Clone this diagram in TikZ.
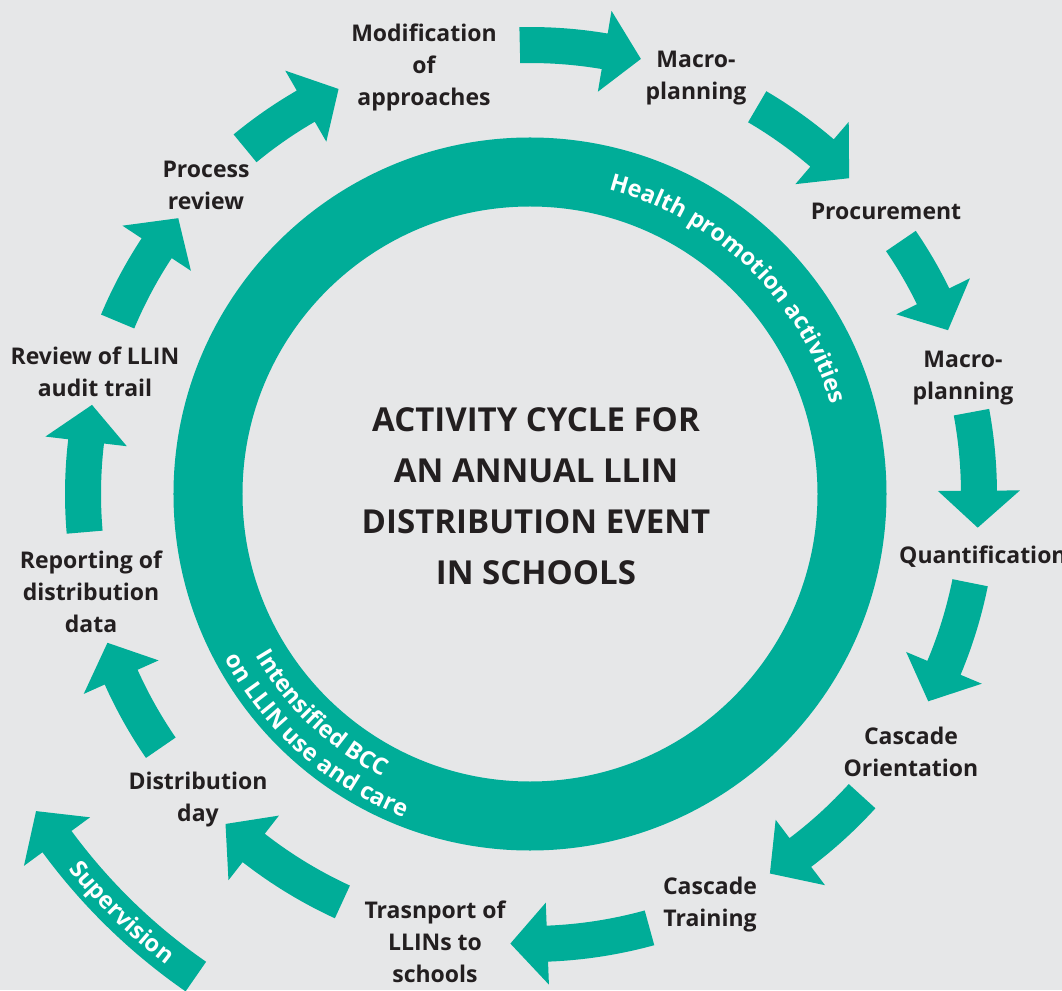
\documentclass[tikz,border=0pt]{standalone}
\usepackage{fontspec}
\setmainfont{Open Sans}
\usepackage{xcolor}
\usetikzlibrary{decorations.text}

\definecolor{llinteal}{HTML}{00AD98}
\definecolor{llingrey}{HTML}{E6E7E8}
\definecolor{llinink}{HTML}{231F20}

% curved block arrow: tail angle, tip angle, radius
\newcommand{\cyclearrow}[3]{%
  \pgfmathsetmacro{\hb}{#2+(37/#3)*180/pi}
  \fill[llinteal] ({#1}:{#3+18}) arc[start angle={#1},end angle=\hb,radius={#3+18}]
    -- (\hb:{#3+41}) -- ({#2}:{#3}) -- (\hb:{#3-41}) -- (\hb:{#3-18})
    arc[start angle=\hb,end angle={#1},radius={#3-18}] -- cycle;
}
\newcommand{\ringfont}{\color{white}\bfseries\fontsize{23.5}{23.5}\selectfont}

\begin{document}
\begin{tikzpicture}[x=1pt,y=1pt,
    step label/.style={align=center,text=llinink,font=\bfseries\fontsize{23}{32}\selectfont}]
  \useasboundingbox (-530,-496) rectangle (532,494);
  \fill[llingrey] (-530,-496) rectangle (532,494);
  \clip (-530,-496) rectangle (532,494);

  \draw[llinteal,line width=69] (0,0) circle[radius=322];
  \node[align=center,text=llinink,font=\bfseries\fontsize{33}{51}\selectfont] (title) at (6,-2)
    {ACTIVITY CYCLE FOR\\AN ANNUAL LLIN\\DISTRIBUTION EVENT\\IN SCHOOLS};

  \path[decorate,decoration={text along path,text align=center,
      text={|\ringfont|Health promotion activities}}]
    (96:314) arc[start angle=96,end angle=-4,radius=314];
  \path[decorate,decoration={text along path,text align=center,
      text={|\ringfont|Intensified BCC}}]
    (186.5:319) arc[start angle=186.5,end angle=266.5,radius=319];
  \path[decorate,decoration={text along path,text align=center,
      text={|\ringfont|on LLIN use and care}}]
    (188.5:347) arc[start angle=188.5,end angle=268.5,radius=347];

  \cyclearrow{91.3}{75.7}{449}
  \cyclearrow{59.6}{44.7}{449}
  \cyclearrow{34.3}{21.4}{449}
  \cyclearrow{10.5}{-4.3}{449}
  \cyclearrow{-11.4}{-27.5}{449}
  \cyclearrow{-42.3}{-57.7}{449}
  \cyclearrow{-74.6}{-92.5}{450}
  \cyclearrow{-114.7}{-132.7}{449}
  \cyclearrow{-145.5}{-160.6}{448}
  \cyclearrow{-175.1}{-191.5}{447}
  \cyclearrow{-202.7}{-218.1}{447}
  \cyclearrow{-230.5}{-244.7}{448}
  \cyclearrow{235.3}{212.7}{587}
  \path[decorate,decoration={text along path,text align=center,
      text={|\ringfont|Supervision}}]
    (205.7:595) arc[start angle=205.7,end angle=245.7,radius=595];

  \node[step label] (modif) at (-106,427) {Modification\\of\\approaches};
  \node[step label] (macroa) at (166,416) {Macro-\\planning};
  \node[step label] (procure) at (356,283) {Procurement};
  \node[step label] (macrob) at (433,116) {Macro-\\planning};
  \node[step label,anchor=west,inner xsep=0pt] (quant) at (369,-63) {Quantification};
  \node[step label] (orient) at (381,-258) {Cascade\\Orientation};
  \node[step label] (train) at (180,-411) {Cascade\\Training};
  \node[step label] (transp) at (-95,-448) {Trasnport of\\LLINs to\\schools};
  \node[step label] (distday) at (-332,-306) {Distribution\\day};
  \node[step label] (report) at (-439,-98) {Reporting of\\distribution\\data};
  \node[step label] (audit) at (-435,122) {Review of LLIN\\audit trail};
  \node[step label] (procrev) at (-324,309) {Process\\review};
\end{tikzpicture}
\end{document}
